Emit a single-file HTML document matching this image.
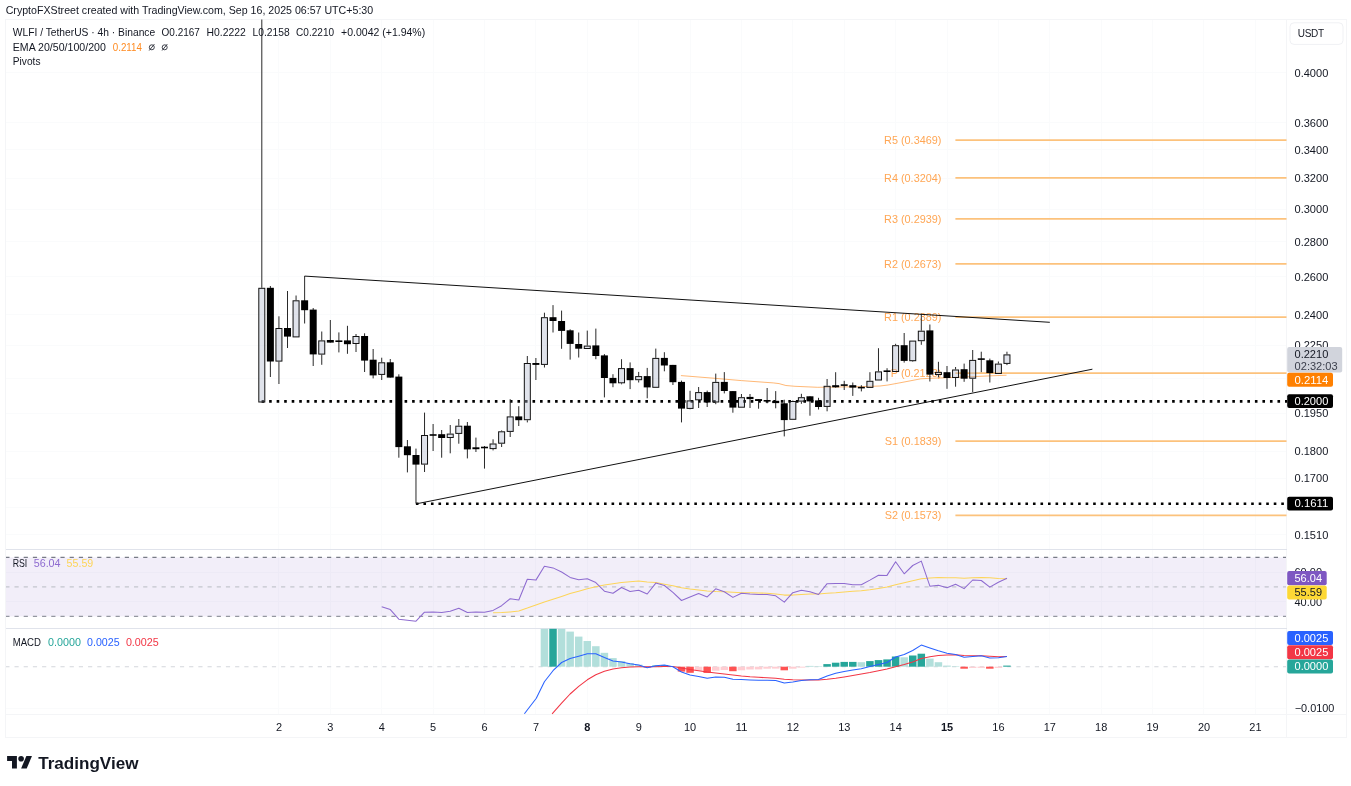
<!DOCTYPE html>
<html lang="en"><head><meta charset="utf-8"><title>WLFI / TetherUS chart</title>
<style>
html,body{margin:0;padding:0;background:#fff;}
body{width:1351px;height:786px;overflow:hidden;position:relative;font-family:"Liberation Sans", sans-serif;}
svg{position:absolute;left:0;top:0;display:block;will-change:transform;}
svg text{font-family:"Liberation Sans", sans-serif;}
</style></head><body>
<svg width="1351" height="786" viewBox="0 0 1351 786">
<g stroke="#fafbfc" stroke-width="1" shape-rendering="crispEdges">
<line x1="6" y1="72.5" x2="1286" y2="72.5"/>
<line x1="6" y1="122.5" x2="1286" y2="122.5"/>
<line x1="6" y1="149.5" x2="1286" y2="149.5"/>
<line x1="6" y1="178.5" x2="1286" y2="178.5"/>
<line x1="6" y1="209.5" x2="1286" y2="209.5"/>
<line x1="6" y1="241.5" x2="1286" y2="241.5"/>
<line x1="6" y1="276.5" x2="1286" y2="276.5"/>
<line x1="6" y1="314.5" x2="1286" y2="314.5"/>
<line x1="6" y1="345.5" x2="1286" y2="345.5"/>
<line x1="6" y1="378.5" x2="1286" y2="378.5"/>
<line x1="6" y1="413.5" x2="1286" y2="413.5"/>
<line x1="6" y1="451.5" x2="1286" y2="451.5"/>
<line x1="6" y1="478.5" x2="1286" y2="478.5"/>
<line x1="6" y1="507.5" x2="1286" y2="507.5"/>
<line x1="6" y1="534.5" x2="1286" y2="534.5"/>
<line x1="6" y1="572.5" x2="1286" y2="572.5"/>
<line x1="6" y1="601.5" x2="1286" y2="601.5"/>
<line x1="6" y1="708.5" x2="1286" y2="708.5"/>
<line x1="278.5" y1="20" x2="278.5" y2="714"/>
<line x1="330.5" y1="20" x2="330.5" y2="714"/>
<line x1="381.5" y1="20" x2="381.5" y2="714"/>
<line x1="433.5" y1="20" x2="433.5" y2="714"/>
<line x1="484.5" y1="20" x2="484.5" y2="714"/>
<line x1="535.5" y1="20" x2="535.5" y2="714"/>
<line x1="587.5" y1="20" x2="587.5" y2="714"/>
<line x1="638.5" y1="20" x2="638.5" y2="714"/>
<line x1="690.5" y1="20" x2="690.5" y2="714"/>
<line x1="741.5" y1="20" x2="741.5" y2="714"/>
<line x1="792.5" y1="20" x2="792.5" y2="714"/>
<line x1="844.5" y1="20" x2="844.5" y2="714"/>
<line x1="895.5" y1="20" x2="895.5" y2="714"/>
<line x1="947.5" y1="20" x2="947.5" y2="714"/>
<line x1="998.5" y1="20" x2="998.5" y2="714"/>
<line x1="1049.5" y1="20" x2="1049.5" y2="714"/>
<line x1="1101.5" y1="20" x2="1101.5" y2="714"/>
<line x1="1152.5" y1="20" x2="1152.5" y2="714"/>
<line x1="1203.5" y1="20" x2="1203.5" y2="714"/>
<line x1="1255.5" y1="20" x2="1255.5" y2="714"/>
</g>
<rect x="6" y="557.4" width="1280.5" height="59" fill="#7e57c2" fill-opacity="0.1"/>
<g fill="none" stroke-width="1.1" stroke-dasharray="4.2 4.992">
<line x1="5.3" y1="557.4" x2="1286.5" y2="557.4" stroke="#787b86"/>
<line x1="5.3" y1="586.9" x2="1286.5" y2="586.9" stroke="#c4c6cd"/>
<line x1="5.3" y1="616.4" x2="1286.5" y2="616.4" stroke="#9497a0" stroke-width="1.3"/>
<line x1="5.3" y1="666.7" x2="1286.5" y2="666.7" stroke="#d4d6dc"/>
</g>
<g fill="none" shape-rendering="crispEdges">
<rect x="5.5" y="19.5" width="1341" height="718" stroke="#f4f5f7"/>
<line x1="1286.5" y1="20" x2="1286.5" y2="737" stroke="#f4f5f7"/>
<line x1="6" y1="714.5" x2="1346" y2="714.5" stroke="#f4f5f7"/>
<line x1="6" y1="549.5" x2="1346" y2="549.5" stroke="#e0e3eb"/>
<line x1="6" y1="628.5" x2="1346" y2="628.5" stroke="#e0e3eb"/>
</g>
<g stroke="#fcc27c" stroke-width="1.7">
<line x1="955.4" y1="140.2" x2="1286.5" y2="140.2"/>
<line x1="955.4" y1="177.9" x2="1286.5" y2="177.9"/>
<line x1="955.4" y1="218.9" x2="1286.5" y2="218.9"/>
<line x1="955.4" y1="263.9" x2="1286.5" y2="263.9"/>
<line x1="955.4" y1="317.1" x2="1286.5" y2="317.1"/>
<line x1="955.4" y1="373.1" x2="1286.5" y2="373.1"/>
<line x1="955.4" y1="441.2" x2="1286.5" y2="441.2"/>
<line x1="955.4" y1="515.3" x2="1286.5" y2="515.3"/>
</g>
<g font-size="10.4" fill="#ffa654">
<text x="884.1" y="144.1" textLength="57.3" lengthAdjust="spacingAndGlyphs" >R5 (0.3469)</text>
<text x="884.1" y="181.8" textLength="57.3" lengthAdjust="spacingAndGlyphs" >R4 (0.3204)</text>
<text x="884.1" y="222.8" textLength="57.3" lengthAdjust="spacingAndGlyphs" >R3 (0.2939)</text>
<text x="884.1" y="267.8" textLength="57.3" lengthAdjust="spacingAndGlyphs" >R2 (0.2673)</text>
<text x="884.1" y="321.0" textLength="57.3" lengthAdjust="spacingAndGlyphs" >R1 (0.2389)</text>
<text x="890.8" y="377.0" textLength="50.6" lengthAdjust="spacingAndGlyphs" >P (0.2123)</text>
<text x="884.7" y="445.1" textLength="56.7" lengthAdjust="spacingAndGlyphs" >S1 (0.1839)</text>
<text x="884.7" y="519.2" textLength="56.7" lengthAdjust="spacingAndGlyphs" >S2 (0.1573)</text>
</g>
<g stroke="#000" stroke-width="2.6" stroke-dasharray="2.6 4.925">
<line x1="261.6" y1="401.4" x2="1287" y2="401.4"/>
<line x1="415.9" y1="503.7" x2="1287" y2="503.7"/>
</g>
<polyline fill="none" stroke="#ff9a3c" stroke-opacity="0.7" stroke-width="1" points="680.9,375.6 690.0,376.3 715.9,378.4 741.4,380.6 773.2,382.9 779.0,383.6 785.9,385.5 795.0,386.3 817.8,387.3 835.6,387.0 861.0,386.7 880.0,386.0 888.0,385.0 900.0,382.8 912.0,380.5 920.7,378.8 930.0,378.3 950.0,377.6 975.0,376.5 1006.5,375.2"/>
<g>
<g fill="#2a2a2a"><rect x="261.30" y="19.5" width="1" height="268.3"/><rect x="269.87" y="286.0" width="1" height="91.0"/><rect x="278.43" y="316.3" width="1" height="11.7"/><rect x="278.43" y="361.6" width="1" height="22.4"/><rect x="287.00" y="291.0" width="1" height="57.0"/><rect x="295.56" y="295.5" width="1" height="4.8"/><rect x="304.12" y="276.0" width="1" height="47.5"/><rect x="312.69" y="308.0" width="1" height="58.0"/><rect x="321.25" y="331.5" width="1" height="8.9"/><rect x="321.25" y="354.6" width="1" height="10.2"/><rect x="329.82" y="320.0" width="1" height="22.6"/><rect x="338.38" y="332.4" width="1" height="20.0"/><rect x="346.95" y="325.8" width="1" height="28.0"/><rect x="355.51" y="334.0" width="1" height="2.0"/><rect x="355.51" y="344.0" width="1" height="8.0"/><rect x="364.08" y="333.3" width="1" height="38.7"/><rect x="372.64" y="349.0" width="1" height="29.4"/><rect x="381.21" y="357.7" width="1" height="4.6"/><rect x="381.21" y="374.9" width="1" height="5.1"/><rect x="389.77" y="359.0" width="1" height="18.6"/><rect x="398.34" y="374.3" width="1" height="83.4"/><rect x="406.90" y="440.0" width="1" height="32.4"/><rect x="415.47" y="448.6" width="1" height="54.9"/><rect x="424.03" y="412.6" width="1" height="22.4"/><rect x="424.03" y="464.6" width="1" height="7.4"/><rect x="432.60" y="424.0" width="1" height="27.0"/><rect x="441.16" y="430.0" width="1" height="27.7"/><rect x="449.73" y="425.0" width="1" height="8.6"/><rect x="449.73" y="438.0" width="1" height="15.3"/><rect x="458.29" y="419.0" width="1" height="6.7"/><rect x="458.29" y="433.9" width="1" height="9.8"/><rect x="466.86" y="422.0" width="1" height="36.4"/><rect x="475.43" y="437.6" width="1" height="14.4"/><rect x="483.99" y="446.0" width="1" height="22.6"/><rect x="492.56" y="439.3" width="1" height="4.2"/><rect x="492.56" y="449.1" width="1" height="1.3"/><rect x="501.12" y="430.4" width="1" height="0.9"/><rect x="501.12" y="443.7" width="1" height="3.3"/><rect x="509.69" y="399.2" width="1" height="17.2"/><rect x="509.69" y="431.9" width="1" height="5.1"/><rect x="518.25" y="406.2" width="1" height="19.8"/><rect x="526.82" y="356.0" width="1" height="7.0"/><rect x="526.82" y="420.2" width="1" height="2.2"/><rect x="535.38" y="358.0" width="1" height="22.0"/><rect x="543.94" y="312.7" width="1" height="4.5"/><rect x="543.94" y="364.9" width="1" height="2.6"/><rect x="552.51" y="305.1" width="1" height="27.4"/><rect x="561.08" y="310.6" width="1" height="38.2"/><rect x="569.64" y="329.3" width="1" height="30.3"/><rect x="578.20" y="332.5" width="1" height="25.0"/><rect x="586.77" y="330.6" width="1" height="15.0"/><rect x="595.34" y="328.6" width="1" height="30.6"/><rect x="603.90" y="354.1" width="1" height="43.3"/><rect x="612.46" y="374.2" width="1" height="13.0"/><rect x="621.03" y="359.2" width="1" height="8.9"/><rect x="621.03" y="383.3" width="1" height="1.0"/><rect x="629.60" y="362.4" width="1" height="26.7"/><rect x="638.16" y="371.9" width="1" height="4.2"/><rect x="638.16" y="380.2" width="1" height="2.3"/><rect x="646.72" y="367.9" width="1" height="30.4"/><rect x="655.29" y="348.6" width="1" height="9.3"/><rect x="663.86" y="352.2" width="1" height="19.1"/><rect x="672.42" y="364.9" width="1" height="20.1"/><rect x="680.99" y="380.6" width="1" height="41.8"/><rect x="689.55" y="390.8" width="1" height="9.6"/><rect x="689.55" y="408.9" width="1" height="0.4"/><rect x="698.12" y="387.0" width="1" height="5.1"/><rect x="698.12" y="400.3" width="1" height="7.7"/><rect x="706.68" y="390.6" width="1" height="16.4"/><rect x="715.25" y="373.6" width="1" height="8.3"/><rect x="715.25" y="402.5" width="1" height="1.7"/><rect x="723.81" y="372.1" width="1" height="21.3"/><rect x="732.38" y="391.1" width="1" height="21.6"/><rect x="740.94" y="394.0" width="1" height="3.2"/><rect x="749.50" y="394.0" width="1" height="14.0"/><rect x="758.07" y="399.1" width="1" height="9.6"/><rect x="766.63" y="388.0" width="1" height="15.3"/><rect x="775.20" y="391.1" width="1" height="17.2"/><rect x="783.76" y="399.7" width="1" height="36.7"/><rect x="792.33" y="400.5" width="1" height="0.5"/><rect x="800.89" y="393.8" width="1" height="3.4"/><rect x="800.89" y="401.6" width="1" height="2.2"/><rect x="809.46" y="396.3" width="1" height="19.4"/><rect x="818.03" y="397.8" width="1" height="11.7"/><rect x="826.59" y="379.0" width="1" height="6.8"/><rect x="826.59" y="406.9" width="1" height="4.4"/><rect x="835.15" y="372.2" width="1" height="15.5"/><rect x="843.72" y="380.8" width="1" height="9.2"/><rect x="852.29" y="382.5" width="1" height="13.4"/><rect x="860.85" y="385.2" width="1" height="6.2"/><rect x="869.41" y="372.2" width="1" height="8.6"/><rect x="877.98" y="348.2" width="1" height="23.2"/><rect x="886.55" y="368.2" width="1" height="13.2"/><rect x="895.11" y="343.8" width="1" height="1.4"/><rect x="903.67" y="333.0" width="1" height="29.6"/><rect x="912.24" y="361.2" width="1" height="0.6"/><rect x="920.81" y="313.7" width="1" height="17.0"/><rect x="920.81" y="341.2" width="1" height="3.6"/><rect x="929.37" y="324.5" width="1" height="57.0"/><rect x="937.93" y="361.8" width="1" height="10.1"/><rect x="937.93" y="375.0" width="1" height="2.4"/><rect x="946.50" y="366.0" width="1" height="22.8"/><rect x="955.07" y="367.0" width="1" height="2.5"/><rect x="955.07" y="378.0" width="1" height="8.7"/><rect x="963.63" y="363.6" width="1" height="18.2"/><rect x="972.19" y="350.0" width="1" height="9.9"/><rect x="972.19" y="378.7" width="1" height="13.5"/><rect x="980.76" y="351.7" width="1" height="20.5"/><rect x="989.33" y="358.6" width="1" height="23.9"/><rect x="997.89" y="361.5" width="1" height="2.1"/><rect x="1006.45" y="351.7" width="1" height="2.7"/><rect x="1006.45" y="363.9" width="1" height="1.2"/></g>
<rect x="258.80" y="288.3" width="6" height="113.7" fill="#b2b9cd" fill-opacity="0.4" stroke="#111" stroke-width="1"/><rect x="266.87" y="287.8" width="7" height="73.7" fill="#000"/><rect x="275.93" y="328.5" width="6" height="32.6" fill="#b2b9cd" fill-opacity="0.4" stroke="#111" stroke-width="1"/><rect x="284.00" y="328.0" width="7" height="8.6" fill="#000"/><rect x="293.06" y="300.8" width="6" height="36.1" fill="#b2b9cd" fill-opacity="0.4" stroke="#111" stroke-width="1"/><rect x="301.12" y="300.3" width="7" height="9.9" fill="#000"/><rect x="309.69" y="309.6" width="7" height="44.8" fill="#000"/><rect x="318.75" y="340.9" width="6" height="13.2" fill="#b2b9cd" fill-opacity="0.4" stroke="#111" stroke-width="1"/><rect x="326.82" y="340.0" width="7" height="2.6" fill="#000"/><rect x="335.38" y="340.4" width="7" height="1.6" fill="#000"/><rect x="343.95" y="340.4" width="7" height="3.8" fill="#000"/><rect x="353.01" y="336.5" width="6" height="7.0" fill="#b2b9cd" fill-opacity="0.4" stroke="#111" stroke-width="1"/><rect x="361.08" y="336.0" width="7" height="24.6" fill="#000"/><rect x="369.64" y="359.7" width="7" height="15.7" fill="#000"/><rect x="378.71" y="362.8" width="6" height="11.6" fill="#b2b9cd" fill-opacity="0.4" stroke="#111" stroke-width="1"/><rect x="386.77" y="362.3" width="7" height="15.3" fill="#000"/><rect x="395.34" y="376.6" width="7" height="70.5" fill="#000"/><rect x="403.90" y="446.3" width="7" height="8.9" fill="#000"/><rect x="412.47" y="455.0" width="7" height="9.6" fill="#000"/><rect x="421.53" y="435.5" width="6" height="28.6" fill="#b2b9cd" fill-opacity="0.4" stroke="#111" stroke-width="1"/><rect x="429.60" y="434.2" width="7" height="1.6" fill="#000"/><rect x="438.16" y="434.2" width="7" height="3.8" fill="#000"/><rect x="447.23" y="434.1" width="6" height="3.4" fill="#b2b9cd" fill-opacity="0.4" stroke="#111" stroke-width="1"/><rect x="455.79" y="426.2" width="6" height="7.2" fill="#b2b9cd" fill-opacity="0.4" stroke="#111" stroke-width="1"/><rect x="463.86" y="425.7" width="7" height="23.7" fill="#000"/><rect x="472.43" y="447.3" width="7" height="1.9" fill="#000"/><rect x="480.99" y="446.7" width="7" height="1.6" fill="#000"/><rect x="490.06" y="444.0" width="6" height="4.6" fill="#b2b9cd" fill-opacity="0.4" stroke="#111" stroke-width="1"/><rect x="498.62" y="431.8" width="6" height="11.4" fill="#b2b9cd" fill-opacity="0.4" stroke="#111" stroke-width="1"/><rect x="507.19" y="416.9" width="6" height="14.5" fill="#b2b9cd" fill-opacity="0.4" stroke="#111" stroke-width="1"/><rect x="515.25" y="416.4" width="7" height="3.8" fill="#000"/><rect x="524.32" y="363.5" width="6" height="56.2" fill="#b2b9cd" fill-opacity="0.4" stroke="#111" stroke-width="1"/><rect x="532.38" y="363.0" width="7" height="1.9" fill="#000"/><rect x="541.44" y="317.7" width="6" height="46.7" fill="#b2b9cd" fill-opacity="0.4" stroke="#111" stroke-width="1"/><rect x="549.51" y="317.2" width="7" height="3.8" fill="#000"/><rect x="558.08" y="321.0" width="7" height="9.9" fill="#000"/><rect x="566.64" y="330.3" width="7" height="13.6" fill="#000"/><rect x="575.20" y="344.0" width="7" height="4.7" fill="#000"/><rect x="584.27" y="346.1" width="6" height="2.4" fill="#b2b9cd" fill-opacity="0.4" stroke="#111" stroke-width="1"/><rect x="592.34" y="345.4" width="7" height="10.6" fill="#000"/><rect x="600.90" y="355.4" width="7" height="22.6" fill="#000"/><rect x="609.46" y="377.9" width="7" height="5.4" fill="#000"/><rect x="618.53" y="368.6" width="6" height="14.2" fill="#b2b9cd" fill-opacity="0.4" stroke="#111" stroke-width="1"/><rect x="626.60" y="368.1" width="7" height="12.1" fill="#000"/><rect x="635.66" y="376.6" width="6" height="3.1" fill="#b2b9cd" fill-opacity="0.4" stroke="#111" stroke-width="1"/><rect x="643.72" y="376.1" width="7" height="11.3" fill="#000"/><rect x="652.79" y="358.4" width="6" height="28.9" fill="#b2b9cd" fill-opacity="0.4" stroke="#111" stroke-width="1"/><rect x="660.86" y="357.9" width="7" height="7.6" fill="#000"/><rect x="669.42" y="364.9" width="7" height="17.3" fill="#000"/><rect x="677.99" y="381.9" width="7" height="26.7" fill="#000"/><rect x="687.05" y="400.9" width="6" height="7.5" fill="#b2b9cd" fill-opacity="0.4" stroke="#111" stroke-width="1"/><rect x="695.62" y="392.6" width="6" height="7.2" fill="#b2b9cd" fill-opacity="0.4" stroke="#111" stroke-width="1"/><rect x="703.68" y="392.1" width="7" height="10.4" fill="#000"/><rect x="712.75" y="382.4" width="6" height="19.6" fill="#b2b9cd" fill-opacity="0.4" stroke="#111" stroke-width="1"/><rect x="720.81" y="381.9" width="7" height="9.1" fill="#000"/><rect x="729.38" y="391.1" width="7" height="16.5" fill="#000"/><rect x="738.44" y="397.7" width="6" height="9.5" fill="#b2b9cd" fill-opacity="0.4" stroke="#111" stroke-width="1"/><rect x="746.50" y="396.9" width="7" height="2.2" fill="#000"/><rect x="755.07" y="399.1" width="7" height="1.9" fill="#000"/><rect x="763.63" y="400.0" width="7" height="1.6" fill="#000"/><rect x="772.20" y="400.8" width="7" height="2.3" fill="#000"/><rect x="780.76" y="403.3" width="7" height="16.8" fill="#000"/><rect x="789.83" y="401.5" width="6" height="17.8" fill="#b2b9cd" fill-opacity="0.4" stroke="#111" stroke-width="1"/><rect x="798.39" y="397.7" width="6" height="3.4" fill="#b2b9cd" fill-opacity="0.4" stroke="#111" stroke-width="1"/><rect x="806.46" y="396.3" width="7" height="5.1" fill="#000"/><rect x="815.03" y="400.4" width="7" height="6.6" fill="#000"/><rect x="824.09" y="386.3" width="6" height="20.1" fill="#b2b9cd" fill-opacity="0.4" stroke="#111" stroke-width="1"/><rect x="832.15" y="385.2" width="7" height="2.1" fill="#000"/><rect x="840.72" y="384.3" width="7" height="1.6" fill="#000"/><rect x="849.29" y="385.2" width="7" height="2.4" fill="#000"/><rect x="857.85" y="386.8" width="7" height="1.6" fill="#000"/><rect x="866.91" y="381.3" width="6" height="6.1" fill="#b2b9cd" fill-opacity="0.4" stroke="#111" stroke-width="1"/><rect x="875.48" y="371.9" width="6" height="8.1" fill="#b2b9cd" fill-opacity="0.4" stroke="#111" stroke-width="1"/><rect x="883.55" y="370.4" width="7" height="1.6" fill="#000"/><rect x="892.61" y="345.7" width="6" height="25.8" fill="#b2b9cd" fill-opacity="0.4" stroke="#111" stroke-width="1"/><rect x="900.67" y="345.2" width="7" height="15.7" fill="#000"/><rect x="909.74" y="341.1" width="6" height="19.6" fill="#b2b9cd" fill-opacity="0.4" stroke="#111" stroke-width="1"/><rect x="918.31" y="331.2" width="6" height="9.5" fill="#b2b9cd" fill-opacity="0.4" stroke="#111" stroke-width="1"/><rect x="926.37" y="330.4" width="7" height="44.2" fill="#000"/><rect x="935.43" y="372.4" width="6" height="2.1" fill="#b2b9cd" fill-opacity="0.4" stroke="#111" stroke-width="1"/><rect x="943.50" y="372.2" width="7" height="5.8" fill="#000"/><rect x="952.57" y="370.0" width="6" height="7.5" fill="#b2b9cd" fill-opacity="0.4" stroke="#111" stroke-width="1"/><rect x="960.63" y="369.2" width="7" height="9.5" fill="#000"/><rect x="969.69" y="360.4" width="6" height="17.8" fill="#b2b9cd" fill-opacity="0.4" stroke="#111" stroke-width="1"/><rect x="977.76" y="358.3" width="7" height="1.6" fill="#000"/><rect x="986.33" y="360.3" width="7" height="12.8" fill="#000"/><rect x="995.39" y="364.1" width="6" height="9.4" fill="#b2b9cd" fill-opacity="0.4" stroke="#111" stroke-width="1"/><rect x="1003.95" y="354.9" width="6" height="8.5" fill="#b2b9cd" fill-opacity="0.4" stroke="#111" stroke-width="1"/>
</g>
<g stroke="#111" stroke-width="1" fill="none">
<line x1="304.6" y1="276.1" x2="1049.8" y2="322.3"/>
<line x1="416.5" y1="503.8" x2="1092.4" y2="369.2"/>
</g>
<polyline fill="none" stroke="#fdd55a" stroke-width="1.05" stroke-linejoin="round" points="493.1,612.7 501.6,612.4 510.2,611.9 518.8,610.9 527.3,608.1 535.9,605.0 544.4,602.1 553.0,599.2 561.6,596.4 570.1,593.6 578.7,591.2 587.3,588.8 595.8,586.8 604.4,585.0 613.0,583.7 621.5,582.4 630.1,581.8 638.7,581.1 647.2,582.1 655.8,582.4 664.4,584.2 672.9,585.8 681.5,587.8 690.0,589.1 698.6,590.1 707.2,591.0 715.7,591.5 724.3,591.8 732.9,592.3 741.4,592.7 750.0,592.8 758.6,593.0 767.1,593.2 775.7,594.0 784.3,595.1 792.8,595.1 801.4,594.5 810.0,594.1 818.5,594.0 827.1,593.2 835.7,592.7 844.2,592.0 852.8,591.2 861.3,590.7 869.9,589.7 878.5,588.4 887.0,587.0 895.6,584.8 904.2,582.7 912.7,580.8 921.3,578.7 929.9,578.0 938.4,577.4 947.0,577.7 955.6,577.8 964.1,578.3 972.7,577.7 981.3,577.5 989.8,577.8 998.4,578.5 1007.0,578.7"/>
<polyline fill="none" stroke="#8e6bd0" stroke-width="1.05" stroke-linejoin="round" points="381.7,606.7 390.3,609.6 398.8,619.2 407.4,620.2 416.0,621.2 424.5,612.2 433.1,611.9 441.7,612.4 450.2,611.2 458.8,608.3 467.4,612.5 475.9,612.0 484.5,612.2 493.1,610.4 501.6,605.7 510.2,598.7 518.8,600.0 527.3,579.3 535.9,580.1 544.4,566.3 553.0,567.9 561.6,572.0 570.1,577.4 578.7,579.8 587.3,578.8 595.8,582.6 604.4,591.2 613.0,593.3 621.5,587.5 630.1,591.5 638.7,590.2 647.2,594.0 655.8,583.1 664.4,585.5 672.9,592.3 681.5,600.5 690.0,596.9 698.6,593.5 707.2,596.9 715.7,588.8 724.3,591.8 732.9,597.4 741.4,593.2 750.0,594.0 758.6,594.5 767.1,594.6 775.7,595.8 784.3,602.1 792.8,592.7 801.4,590.2 810.0,591.8 818.5,594.5 827.1,583.7 835.7,583.4 844.2,583.4 852.8,584.8 861.3,584.7 869.9,580.1 878.5,575.2 887.0,575.4 895.6,561.7 904.2,573.8 912.7,565.5 921.3,561.1 929.9,586.2 938.4,585.3 947.0,587.8 955.6,584.2 964.1,588.6 972.7,580.0 981.3,580.5 989.8,587.1 998.4,582.2 1007.0,578.2"/>
<rect x="540.69" y="628.8" width="7.5" height="37.9" fill="#b2dfdb"/><rect x="549.26" y="628.8" width="7.5" height="37.9" fill="#26a69a"/><rect x="557.83" y="628.8" width="7.5" height="37.9" fill="#b2dfdb"/><rect x="566.39" y="631.6" width="7.5" height="35.1" fill="#b2dfdb"/><rect x="574.95" y="636.6" width="7.5" height="30.1" fill="#b2dfdb"/><rect x="583.52" y="641.0" width="7.5" height="25.7" fill="#b2dfdb"/><rect x="592.09" y="646.2" width="7.5" height="20.5" fill="#b2dfdb"/><rect x="600.65" y="652.8" width="7.5" height="13.9" fill="#b2dfdb"/><rect x="609.21" y="658.1" width="7.5" height="8.6" fill="#b2dfdb"/><rect x="617.78" y="661.1" width="7.5" height="5.6" fill="#b2dfdb"/><rect x="626.35" y="663.0" width="7.5" height="3.7" fill="#b2dfdb"/><rect x="634.91" y="664.6" width="7.5" height="2.1" fill="#b2dfdb"/><rect x="643.47" y="666.7" width="7.5" height="0.8" fill="#ff5252"/><rect x="652.04" y="665.6" width="7.5" height="1.1" fill="#26a69a"/><rect x="660.61" y="665.2" width="7.5" height="1.5" fill="#26a69a"/><rect x="669.17" y="666.3" width="7.5" height="0.5" fill="#b2dfdb"/><rect x="677.74" y="666.7" width="7.5" height="4.9" fill="#ff5252"/><rect x="686.30" y="666.7" width="7.5" height="6.1" fill="#ff5252"/><rect x="694.87" y="666.7" width="7.5" height="4.0" fill="#ffcdd2"/><rect x="703.43" y="666.7" width="7.5" height="6.2" fill="#ff5252"/><rect x="712.00" y="666.7" width="7.5" height="4.0" fill="#ffcdd2"/><rect x="720.56" y="666.7" width="7.5" height="3.3" fill="#ffcdd2"/><rect x="729.12" y="666.7" width="7.5" height="4.5" fill="#ff5252"/><rect x="737.69" y="666.7" width="7.5" height="3.6" fill="#ffcdd2"/><rect x="746.25" y="666.7" width="7.5" height="2.8" fill="#ffcdd2"/><rect x="754.82" y="666.7" width="7.5" height="2.7" fill="#ffcdd2"/><rect x="763.38" y="666.7" width="7.5" height="2.0" fill="#ffcdd2"/><rect x="771.95" y="666.7" width="7.5" height="1.9" fill="#ffcdd2"/><rect x="780.51" y="666.7" width="7.5" height="3.6" fill="#ff5252"/><rect x="789.08" y="666.7" width="7.5" height="2.0" fill="#ffcdd2"/><rect x="797.64" y="666.7" width="7.5" height="0.9" fill="#ffcdd2"/><rect x="806.21" y="665.9" width="7.5" height="0.8" fill="#b2dfdb"/><rect x="814.78" y="666.2" width="7.5" height="0.5" fill="#b2dfdb"/><rect x="823.34" y="664.1" width="7.5" height="2.6" fill="#26a69a"/><rect x="831.90" y="662.7" width="7.5" height="4.0" fill="#26a69a"/><rect x="840.47" y="661.9" width="7.5" height="4.8" fill="#26a69a"/><rect x="849.04" y="661.9" width="7.5" height="4.8" fill="#26a69a"/><rect x="857.60" y="662.2" width="7.5" height="4.5" fill="#b2dfdb"/><rect x="866.16" y="661.1" width="7.5" height="5.6" fill="#26a69a"/><rect x="874.73" y="660.1" width="7.5" height="6.6" fill="#26a69a"/><rect x="883.30" y="659.4" width="7.5" height="7.3" fill="#26a69a"/><rect x="891.86" y="656.5" width="7.5" height="10.2" fill="#26a69a"/><rect x="900.42" y="657.3" width="7.5" height="9.4" fill="#b2dfdb"/><rect x="908.99" y="655.5" width="7.5" height="11.2" fill="#26a69a"/><rect x="917.56" y="653.7" width="7.5" height="13.0" fill="#26a69a"/><rect x="926.12" y="658.6" width="7.5" height="8.1" fill="#b2dfdb"/><rect x="934.68" y="662.2" width="7.5" height="4.5" fill="#b2dfdb"/><rect x="943.25" y="665.6" width="7.5" height="1.1" fill="#b2dfdb"/><rect x="951.82" y="666.3" width="7.5" height="0.5" fill="#b2dfdb"/><rect x="960.38" y="666.7" width="7.5" height="2.0" fill="#ff5252"/><rect x="968.94" y="666.7" width="7.5" height="1.2" fill="#ffcdd2"/><rect x="977.51" y="666.7" width="7.5" height="1.1" fill="#ffcdd2"/><rect x="986.08" y="666.7" width="7.5" height="2.0" fill="#ff5252"/><rect x="994.64" y="666.7" width="7.5" height="1.2" fill="#ffcdd2"/><rect x="1003.20" y="665.6" width="7.5" height="1.1" fill="#26a69a"/>
<polyline fill="none" stroke="#f23645" stroke-width="1.05" stroke-linejoin="round" points="552.1,713.8 561.6,703.2 570.1,694.0 578.7,686.3 587.3,679.8 595.8,674.7 604.4,671.3 613.0,669.0 621.5,667.7 630.1,667.1 638.7,666.8 647.2,666.8 655.8,666.8 664.4,666.4 672.9,666.6 681.5,667.9 690.0,669.5 698.6,670.7 707.2,672.1 715.7,672.9 724.3,673.9 732.9,674.9 741.4,675.9 750.0,676.7 758.6,677.3 767.1,677.8 775.7,678.3 784.3,679.3 792.8,679.8 801.4,679.9 810.0,679.9 818.5,679.9 827.1,679.3 835.7,678.2 844.2,676.9 852.8,675.4 861.3,673.9 869.9,672.5 878.5,670.8 887.0,669.0 895.6,666.8 904.2,664.5 912.7,661.9 921.3,658.5 929.9,656.7 938.4,655.4 947.0,654.9 955.6,654.7 964.1,655.4 972.7,655.7 981.3,655.7 989.8,656.2 998.4,656.7 1007.0,656.5"/>
<polyline fill="none" stroke="#2962ff" stroke-width="1.05" stroke-linejoin="round" points="524.4,713.8 536.3,698.3 544.4,681.7 553.0,670.7 561.6,662.5 570.1,658.5 578.7,656.2 587.3,653.7 595.8,653.7 604.4,657.6 613.0,661.1 621.5,661.9 630.1,663.8 638.7,665.1 647.2,667.7 655.8,665.8 664.4,665.0 672.9,666.8 681.5,672.0 690.0,675.1 698.6,676.4 707.2,678.3 715.7,676.9 724.3,677.2 732.9,679.3 741.4,679.6 750.0,679.9 758.6,680.3 767.1,680.3 775.7,680.4 784.3,683.0 792.8,682.1 801.4,680.4 810.0,679.8 818.5,679.5 827.1,676.0 835.7,673.3 844.2,671.5 852.8,670.0 861.3,668.7 869.9,666.6 878.5,664.6 887.0,662.5 895.6,657.0 904.2,654.5 912.7,650.5 921.3,645.1 929.9,648.0 938.4,650.8 947.0,653.2 955.6,654.5 964.1,657.3 972.7,656.5 981.3,655.8 989.8,658.0 998.4,657.8 1007.0,656.5"/>
<rect x="1287" y="20" width="59" height="694" fill="#fff"/>
<g font-size="10.4" fill="#131722">
<text x="1294.5" y="76.5" textLength="33.8" lengthAdjust="spacingAndGlyphs" >0.4000</text>
<text x="1294.5" y="126.5" textLength="33.8" lengthAdjust="spacingAndGlyphs" >0.3600</text>
<text x="1294.5" y="153.6" textLength="33.8" lengthAdjust="spacingAndGlyphs" >0.3400</text>
<text x="1294.5" y="182.3" textLength="33.8" lengthAdjust="spacingAndGlyphs" >0.3200</text>
<text x="1294.5" y="212.9" textLength="33.8" lengthAdjust="spacingAndGlyphs" >0.3000</text>
<text x="1294.5" y="245.6" textLength="33.8" lengthAdjust="spacingAndGlyphs" >0.2800</text>
<text x="1294.5" y="280.8" textLength="33.8" lengthAdjust="spacingAndGlyphs" >0.2600</text>
<text x="1294.5" y="318.7" textLength="33.8" lengthAdjust="spacingAndGlyphs" >0.2400</text>
<text x="1294.5" y="349.3" textLength="33.8" lengthAdjust="spacingAndGlyphs" >0.2250</text>
<text x="1294.5" y="417.2" textLength="33.8" lengthAdjust="spacingAndGlyphs" >0.1950</text>
<text x="1294.5" y="455.2" textLength="33.8" lengthAdjust="spacingAndGlyphs" >0.1800</text>
<text x="1294.5" y="482.3" textLength="33.8" lengthAdjust="spacingAndGlyphs" >0.1700</text>
<text x="1294.5" y="538.5" textLength="33.8" lengthAdjust="spacingAndGlyphs" >0.1510</text>
<text x="1294.5" y="576.0" textLength="27.5" lengthAdjust="spacingAndGlyphs" >60.00</text>
<text x="1294.5" y="605.6" textLength="27.5" lengthAdjust="spacingAndGlyphs" >40.00</text>
<text x="1294.7" y="712.1" textLength="39.7" lengthAdjust="spacingAndGlyphs" >−0.0100</text>
</g>
<rect x="1290" y="22.8" width="53" height="21.6" rx="4" fill="#fff" stroke="#f0f1f4"/>
<text x="1297.8" y="36.9" font-size="10" fill="#131722" letter-spacing="-0.3">USDT</text>
<rect x="1287.2" y="347" width="55" height="25.6" rx="2" fill="#d1d4dc"/>
<text x="1294.5" y="357.7" textLength="33.8" lengthAdjust="spacingAndGlyphs" font-size="10.4" fill="#131722">0.2210</text>
<text x="1294.6" y="369.5" textLength="43.0" lengthAdjust="spacingAndGlyphs" font-size="10.4" fill="#3a3e4b">02:32:03</text>
<rect x="1287.2" y="372.8" width="45.8" height="14.0" rx="2" fill="#ff8000"/>
<text x="1294.5" y="383.6" textLength="33.8" lengthAdjust="spacingAndGlyphs" font-size="10.4" fill="#fff">0.2114</text>
<rect x="1287.2" y="394.3" width="45.8" height="13.6" rx="2" fill="#000"/>
<text x="1294.5" y="404.9" textLength="33.8" lengthAdjust="spacingAndGlyphs" font-size="10.4" fill="#fff">0.2000</text>
<rect x="1287.2" y="496.7" width="45.8" height="13.8" rx="2" fill="#000"/>
<text x="1294.5" y="507.4" textLength="33.8" lengthAdjust="spacingAndGlyphs" font-size="10.4" fill="#fff">0.1611</text>
<rect x="1287.2" y="571.0" width="39.5" height="14.2" rx="2" fill="#7e57c2"/>
<text x="1294.5" y="581.9" textLength="27.5" lengthAdjust="spacingAndGlyphs" font-size="10.4" fill="#fff">56.04</text>
<rect x="1287.2" y="585.4" width="39.5" height="14.0" rx="2" fill="#fdd835"/>
<text x="1294.5" y="596.2" textLength="27.5" lengthAdjust="spacingAndGlyphs" font-size="10.4" fill="#131722">55.59</text>
<rect x="1287.2" y="631.0" width="45.8" height="14.0" rx="2" fill="#2962ff"/>
<text x="1294.5" y="641.8" textLength="33.8" lengthAdjust="spacingAndGlyphs" font-size="10.4" fill="#fff">0.0025</text>
<rect x="1287.2" y="645.2" width="45.8" height="14.0" rx="2" fill="#f23645"/>
<text x="1294.5" y="656.0" textLength="33.8" lengthAdjust="spacingAndGlyphs" font-size="10.4" fill="#fff">0.0025</text>
<rect x="1287.2" y="659.4" width="45.8" height="14.0" rx="2" fill="#26a69a"/>
<text x="1294.5" y="670.2" textLength="33.8" lengthAdjust="spacingAndGlyphs" font-size="10.4" fill="#fff">0.0000</text>
<g font-size="10.4" fill="#131722">
<text x="275.9" y="730.6" textLength="6.1" lengthAdjust="spacingAndGlyphs" >2</text>
<text x="327.3" y="730.6" textLength="6.1" lengthAdjust="spacingAndGlyphs" >3</text>
<text x="378.7" y="730.6" textLength="6.1" lengthAdjust="spacingAndGlyphs" >4</text>
<text x="430.1" y="730.6" textLength="6.1" lengthAdjust="spacingAndGlyphs" >5</text>
<text x="481.5" y="730.6" textLength="6.1" lengthAdjust="spacingAndGlyphs" >6</text>
<text x="532.9" y="730.6" textLength="6.1" lengthAdjust="spacingAndGlyphs" >7</text>
<text x="584.3" y="730.6" textLength="6.1" lengthAdjust="spacingAndGlyphs" font-weight="bold">8</text>
<text x="635.7" y="730.6" textLength="6.1" lengthAdjust="spacingAndGlyphs" >9</text>
<text x="684.0" y="730.6" textLength="12.2" lengthAdjust="spacingAndGlyphs" >10</text>
<text x="735.4" y="730.6" textLength="12.2" lengthAdjust="spacingAndGlyphs" >11</text>
<text x="786.8" y="730.6" textLength="12.2" lengthAdjust="spacingAndGlyphs" >12</text>
<text x="838.2" y="730.6" textLength="12.2" lengthAdjust="spacingAndGlyphs" >13</text>
<text x="889.6" y="730.6" textLength="12.2" lengthAdjust="spacingAndGlyphs" >14</text>
<text x="941.0" y="730.6" textLength="12.2" lengthAdjust="spacingAndGlyphs" font-weight="bold">15</text>
<text x="992.3" y="730.6" textLength="12.2" lengthAdjust="spacingAndGlyphs" >16</text>
<text x="1043.7" y="730.6" textLength="12.2" lengthAdjust="spacingAndGlyphs" >17</text>
<text x="1095.1" y="730.6" textLength="12.2" lengthAdjust="spacingAndGlyphs" >18</text>
<text x="1146.5" y="730.6" textLength="12.2" lengthAdjust="spacingAndGlyphs" >19</text>
<text x="1197.9" y="730.6" textLength="12.2" lengthAdjust="spacingAndGlyphs" >20</text>
<text x="1249.3" y="730.6" textLength="12.2" lengthAdjust="spacingAndGlyphs" >21</text>
</g>
<g font-size="10.4" fill="#131722">
<text x="5.7" y="13.8" textLength="367.5" lengthAdjust="spacingAndGlyphs" >CryptoFXStreet created with TradingView.com, Sep 16, 2025 06:57 UTC+5:30</text>
<text x="12.8" y="36.2" textLength="142.4" lengthAdjust="spacingAndGlyphs" >WLFI / TetherUS · 4h · Binance</text>
<text x="161.6" y="36.2" textLength="38.3" lengthAdjust="spacingAndGlyphs" >O0.2167</text>
<text x="206.5" y="36.2" textLength="39.3" lengthAdjust="spacingAndGlyphs" >H0.2222</text>
<text x="252.5" y="36.2" textLength="37.1" lengthAdjust="spacingAndGlyphs" >L0.2158</text>
<text x="296.1" y="36.2" textLength="38.0" lengthAdjust="spacingAndGlyphs" >C0.2210</text>
<text x="341.1" y="36.2" textLength="84.1" lengthAdjust="spacingAndGlyphs" >+0.0042 (+1.94%)</text>
<text x="12.8" y="50.8" textLength="93.0" lengthAdjust="spacingAndGlyphs" >EMA 20/50/100/200</text>
<text x="112.8" y="50.8" textLength="29.1" lengthAdjust="spacingAndGlyphs" fill="#ff8a1f">0.2114</text>
<text x="12.8" y="64.7" textLength="27.7" lengthAdjust="spacingAndGlyphs" >Pivots</text>
<text x="12.7" y="566.6" textLength="14.6" lengthAdjust="spacingAndGlyphs" >RSI</text>
<text x="33.7" y="566.6" textLength="26.9" lengthAdjust="spacingAndGlyphs" fill="#8e6bd0">56.04</text>
<text x="66.6" y="566.6" textLength="26.7" lengthAdjust="spacingAndGlyphs" fill="#fdd55a">55.59</text>
<text x="12.7" y="645.8" textLength="28.3" lengthAdjust="spacingAndGlyphs" >MACD</text>
<text x="48.0" y="645.8" textLength="32.9" lengthAdjust="spacingAndGlyphs" fill="#26a69a">0.0000</text>
<text x="87.0" y="645.8" textLength="32.6" lengthAdjust="spacingAndGlyphs" fill="#2962ff">0.0025</text>
<text x="125.9" y="645.8" textLength="32.9" lengthAdjust="spacingAndGlyphs" fill="#f23645">0.0025</text>
</g>
<g fill="none" stroke="#2a2e39" stroke-width="0.9">
<circle cx="151.8" cy="47.3" r="2.5"/><line x1="149.2" y1="50.5" x2="154.4" y2="44.1"/>
<circle cx="164.7" cy="47.3" r="2.5"/><line x1="162.1" y1="50.5" x2="167.3" y2="44.1"/>
</g>
<g transform="translate(7.1,753.2) scale(0.70)" fill="#131722">
<path d="M14 22H7V11H0V4h14v18z"/><circle cx="20" cy="8" r="4"/><path d="M28 22h-8l7.5-18h8L28 22z"/>
</g>
<text x="38.2" y="768.7" font-size="17" font-weight="bold" fill="#131722" textLength="100.3" lengthAdjust="spacingAndGlyphs">TradingView</text>
</svg></body></html>
